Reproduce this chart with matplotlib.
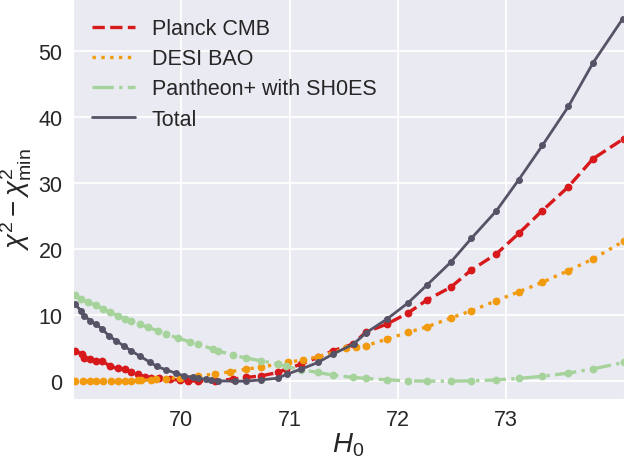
import numpy as np
import matplotlib
matplotlib.use("Agg")
import matplotlib.pyplot as plt
import seaborn as sns

sns.set_style("darkgrid")
plt.rcParams['font.family'] = ['Liberation Sans', 'DejaVu Sans']
plt.rcParams['mathtext.fontset'] = 'custom'
plt.rcParams['mathtext.rm'] = 'Liberation Sans'
plt.rcParams['mathtext.it'] = 'Liberation Sans:italic'

# profile points (H0, delta chi2)
h0_planck = [69.014, 69.085, 69.106, 69.159, 69.208, 69.270, 69.344, 69.414, 69.476,
             69.538, 69.599, 69.661, 69.723, 69.799, 69.892, 69.984, 70.061, 70.153,
             70.308, 70.477, 70.601, 70.739, 70.893, 70.970, 71.109, 71.262, 71.401,
             71.586, 71.703, 71.900, 72.094, 72.274, 72.489, 72.680, 72.911, 73.120,
             73.336, 73.573, 73.804, 74.090]
chi_planck = [4.59, 4.09, 3.44, 3.33, 3.08, 3.08, 2.23, 1.92, 1.82,
              1.41, 1.06, 0.65, 0.45, 0.41, 0.30, 0.15, 0.05, 0.0,
              0.05, 0.30, 0.56, 0.80, 1.32, 1.82, 2.58, 3.59, 4.59,
              5.61, 7.38, 8.64, 10.30, 12.32, 14.20, 16.82, 19.24, 22.38,
              25.80, 29.35, 33.64, 36.70]

h0_desi = [69.014, 69.091, 69.153, 69.214, 69.276, 69.353, 69.414, 69.476, 69.538,
           69.599, 69.630, 69.723, 69.769, 69.861, 69.984, 70.153, 70.308, 70.446,
           70.601, 70.739, 70.893, 70.985, 71.124, 71.262, 71.525, 71.617, 71.703,
           71.900, 72.094, 72.274, 72.489, 72.680, 72.911, 73.120, 73.336, 73.573,
           73.804, 74.090]
chi_desi = [0.0, 0.0, 0.0, 0.0, 0.0, 0.02, 0.03, 0.05, 0.07,
            0.10, 0.12, 0.20, 0.30, 0.40, 0.50, 0.80, 1.06, 1.41,
            1.82, 2.12, 2.58, 2.83, 3.23, 3.68, 4.95, 5.11, 5.35,
            6.36, 7.38, 8.23, 9.55, 10.65, 12.17, 13.53, 14.95, 16.71,
            18.48, 21.20]

h0_sn = [69.014, 69.076, 69.137, 69.208, 69.275, 69.344, 69.414, 69.476, 69.538,
         69.615, 69.691, 69.784, 69.861, 69.969, 70.077, 70.153, 70.292, 70.338,
         70.477, 70.601, 70.739, 70.893, 70.970, 71.109, 71.262, 71.401, 71.586,
         71.710, 71.900, 72.094, 72.274, 72.489, 72.680, 72.911, 73.117, 73.334,
         73.573, 73.804, 74.090]
chi_sn = [13.03, 12.42, 11.92, 11.52, 10.91, 10.41, 9.89, 9.39, 9.14,
          8.64, 8.14, 7.62, 7.12, 6.52, 5.95, 5.61, 4.85, 4.59,
          3.94, 3.48, 3.08, 2.58, 2.23, 1.71, 1.32, 0.91, 0.56,
          0.41, 0.20, 0.05, 0.0, 0.0, 0.05, 0.18, 0.41, 0.73,
          1.21, 1.86, 2.83]

h0_tot = [69.014, 69.076, 69.106, 69.159, 69.208, 69.270, 69.331, 69.399, 69.467,
          69.538, 69.621, 69.707, 69.774, 69.861, 69.954, 70.030, 70.107, 70.153,
          70.231, 70.277, 70.338, 70.493, 70.601, 70.739, 70.893, 70.976, 71.109,
          71.262, 71.401, 71.592, 71.703, 71.900, 72.094, 72.274, 72.489, 72.680,
          72.911, 73.117, 73.336, 73.577, 73.804, 74.080]
chi_tot = [11.67, 10.65, 9.89, 9.14, 8.64, 7.88, 6.86, 6.11, 5.35,
           4.59, 3.74, 2.92, 2.23, 1.71, 1.17, 0.80, 0.56, 0.41,
           0.30, 0.15, 0.05, 0.0, 0.0, 0.20, 0.45, 1.06, 1.82,
           2.83, 4.09, 5.61, 7.27, 9.39, 11.82, 14.60, 17.98, 21.60,
           25.76, 30.45, 35.65, 41.56, 48.14, 54.85]

fig = plt.figure(figsize=(6.24, 4.6), dpi=100)
ax = fig.add_axes([73 / 624, 60 / 460, 1 - 73 / 624, 400 / 460])

series = [
    (h0_planck, chi_planck, 'Planck CMB', '#d7191c', '--', 2.4, 4.6),
    (h0_desi, chi_desi, 'DESI BAO', '#f29a0e', ':', 2.4, 4.6),
    (h0_sn, chi_sn, 'Pantheon+ with SH0ES', '#a6d39c', '-.', 2.4, 4.6),
    (h0_tot, chi_tot, 'Total', '#565367', '-', 2.0, 4.0),
]
for x, y, lab, c, ls, lw, ms in series:
    ax.plot(x, y, ls=ls, color=c, lw=lw, label=lab)
    ax.plot(x, y, ls='none', marker='o', color=c, ms=ms)

ax.grid(color='white', lw=1.3)
ax.set_xlim(69.0, 74.09)
ax.set_ylim(-2.7, 57.8)
ax.set_xticks([70, 71, 72, 73])
ax.set_yticks([0, 10, 20, 30, 40, 50])
ax.tick_params(labelsize=15.5, pad=4)
ax.set_xlabel('$H_0$', fontsize=20, labelpad=0)
ax.set_ylabel(r'$\chi^2-\chi^2_{\rm min}$', fontsize=20, labelpad=3)

ax.legend(loc='upper left', fontsize=15.5, frameon=False, handlelength=2.0,
          borderaxespad=0.5, labelspacing=0.42, handletextpad=0.75)

fig.savefig('out.png', dpi=100)
